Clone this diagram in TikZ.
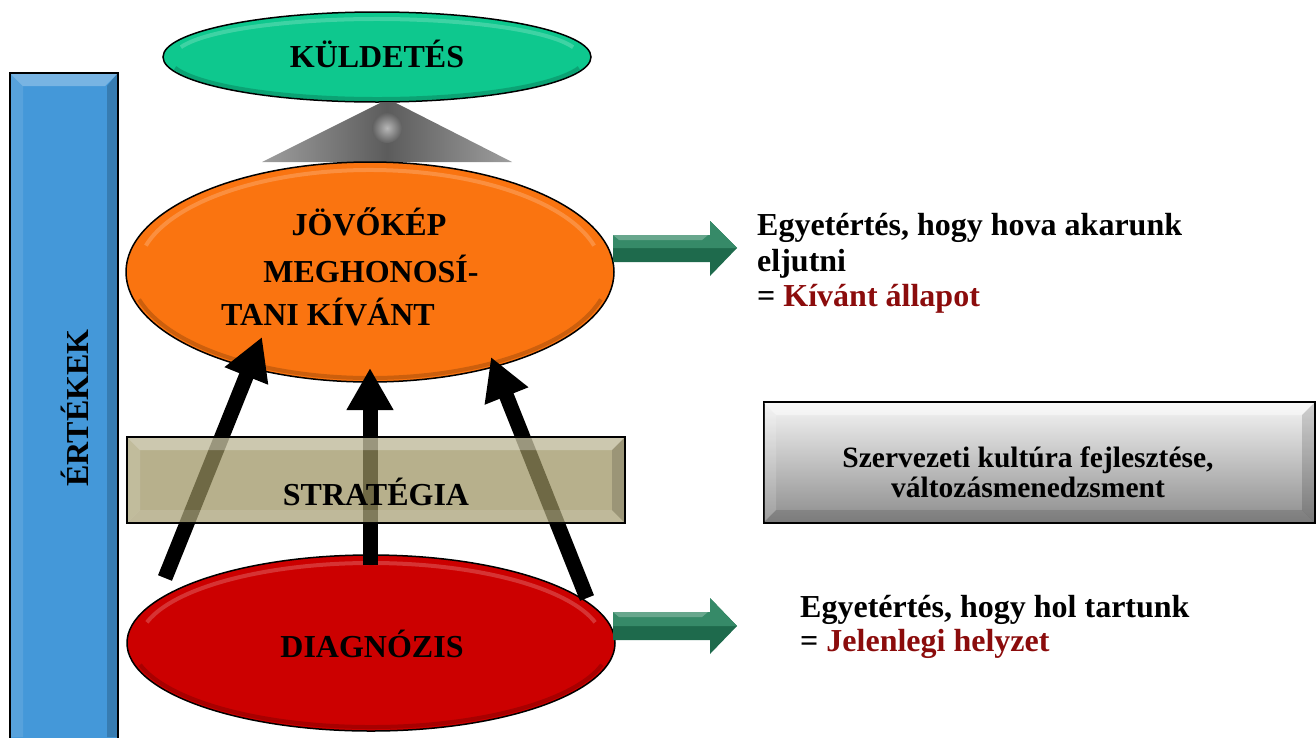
\documentclass[tikz,border=0pt]{standalone}
\usepackage{fontspec}
\setmainfont{Liberation Serif}
\usetikzlibrary{shapes.geometric,arrows.meta}
\definecolor{barblue}{RGB}{68,152,217}
\definecolor{kgreen}{RGB}{14,200,142}
\definecolor{jorange}{RGB}{250,116,16}
\definecolor{dred}{RGB}{204,0,0}
\definecolor{khaki}{RGB}{155,146,96}
\definecolor{garrow}{RGB}{30,106,76}
\definecolor{garrowlt}{RGB}{54,138,104}
\definecolor{txtred}{RGB}{139,12,12}
\begin{document}
\begin{tikzpicture}[x=1pt,y=-1pt,
  lbl/.style={font=\fontsize{32}{36}\selectfont\bfseries, inner sep=0},
  boxlbl/.style={font=\fontsize{29.5}{30}\selectfont\bfseries, inner sep=0},
  oval/.style={ellipse, draw=black, line width=1.5pt, inner sep=0},
  bigarrow/.style={line width=15pt, -{Triangle[length=42pt,width=44pt]}},
  blockarrow/.style={fill=garrow},
  hl/.style={white, opacity=0.2, line width=4pt},
  sh/.style={black, opacity=0.18, line width=4pt}]
\useasboundingbox (0,0) rectangle (1316,737);

% values bar
\node[rectangle, fill=barblue, minimum width=108pt, minimum height=668pt, inner sep=0, anchor=north west] (bar) at (10,73) {};
\fill[white, opacity=0.28] (11,74) -- (117,74) -- (105,86) -- (23,86) -- cycle;
\fill[white, opacity=0.1] (11,74) -- (23,86) -- (23,737) -- (11,737) -- cycle;
\fill[black, opacity=0.18] (117,74) -- (107,86) -- (107,737) -- (117,737) -- cycle;
\draw[line width=2pt] (bar.south west) -- (bar.north west) -- (bar.north east) -- (bar.south east);
\node[lbl, rotate=90, anchor=base] (ert) at (88,408) {ÉRTÉKEK};

% mission
\node[oval, fill=kgreen, minimum width=428pt, minimum height=90pt] (kuld) at (377,57) {};
\draw[hl] (kuld.center) ++(195:203 and 38) arc[start angle=195, end angle=345, x radius=203, y radius=38];
\draw[sh] (kuld.center) ++(15:209 and 42) arc[start angle=15, end angle=165, x radius=209, y radius=42];
\node[lbl, anchor=base] (kuldt) at (377,67) {KÜLDETÉS};

% pedestal
\shade[left color=black!38, right color=black!38, middle color=black!64] (262,162) -- (380,103) -- (396,103) -- (512,162) -- cycle;
\shade[inner color=black!28, outer color=black!62] (387,128) circle (15);

% vision
\node[oval, fill=jorange, minimum width=488pt, minimum height=220pt] (jov) at (370,272) {};
\draw[hl] (jov.center) ++(195:232 and 102) arc[start angle=195, end angle=345, x radius=232, y radius=102];
\draw[sh] (jov.center) ++(15:239 and 106) arc[start angle=15, end angle=165, x radius=239, y radius=106];
\node[lbl, anchor=base] (jov1) at (369,235) {JÖVŐKÉP};
\node[lbl, anchor=base] (jov2) at (371,282) {MEGHONOSÍ-};
\node[lbl, anchor=base] (jov3) at (328,325) {TANI KÍVÁNT};

% diagnosis
\node[oval, fill=dred, minimum width=488pt, minimum height=176pt] (diag) at (371,643) {};
\draw[hl] (diag.center) ++(195:232 and 80) arc[start angle=195, end angle=345, x radius=232, y radius=80];
\draw[sh] (diag.center) ++(15:239 and 84) arc[start angle=15, end angle=165, x radius=239, y radius=84];
\node[lbl, anchor=base] (diagt) at (372,657) {DIAGNÓZIS};

% arrows from diagnosis to vision
\coordinate (a1s) at (165,578); \coordinate (a1e) at (262,337);
\coordinate (a2s) at (370,565); \coordinate (a2e) at (370,368);
\coordinate (a3s) at (587,598); \coordinate (a3e) at (491,357);
\draw[bigarrow] (a1s) -- (a1e);
\draw[bigarrow] (a2s) -- (a2e);
\draw[bigarrow] (a3s) -- (a3e);

% strategy box (translucent)
\node[rectangle, draw=black, line width=2pt, fill=khaki, fill opacity=0.72, minimum width=498pt, minimum height=86pt, inner sep=0] (strat) at (376,480) {};
\fill[white, opacity=0.3] (128,438) -- (624,438) -- (612,450) -- (140,450) -- cycle;
\fill[white, opacity=0.15] (128,438) -- (140,450) -- (140,510) -- (128,522) -- cycle;
\fill[black, opacity=0.15] (624,438) -- (612,450) -- (612,510) -- (624,522) -- cycle;
\fill[white, opacity=0.12] (128,522) -- (140,510) -- (612,510) -- (624,522) -- cycle;
\node[lbl, anchor=base] (stratt) at (376,505) {STRATÉGIA};

% culture box
\node[rectangle, draw=black, line width=2pt, top color=black!4, bottom color=black!45, minimum width=551pt, minimum height=121pt, inner sep=0] (kult) at (1039,462.5) {};
\fill[white, opacity=0.45] (764,403) -- (1314,403) -- (1302,415) -- (776,415) -- cycle;
\fill[black, opacity=0.15] (1314,403) -- (1302,415) -- (1302,510) -- (1314,522) -- cycle;
\fill[white, opacity=0.15] (764,403) -- (776,415) -- (776,510) -- (764,522) -- cycle;
\fill[black, opacity=0.12] (764,522) -- (776,510) -- (1302,510) -- (1314,522) -- cycle;
\node[boxlbl, anchor=base] (kult1) at (1028,467) {Szervezeti kultúra fejlesztése,};
\node[boxlbl, anchor=base] (kult2) at (1028,497) {változásmenedzsment};

% block arrows
\fill[blockarrow] (613,235) -- (710,235) -- (710,221) -- (737,248) -- (710,276) -- (710,262) -- (613,262) -- cycle;
\fill[garrowlt] (613,235) -- (710,235) -- (710,221) -- (737,248) -- (613,248) -- cycle;
\fill[white, opacity=0.25] (613,235) -- (708,235) -- (702,240) -- (619,240) -- cycle;
\fill[blockarrow] (613,612) -- (710,612) -- (710,598) -- (737,626) -- (710,654) -- (710,640) -- (613,640) -- cycle;
\fill[garrowlt] (613,612) -- (710,612) -- (710,598) -- (737,626) -- (613,626) -- cycle;
\fill[white, opacity=0.25] (613,612) -- (708,612) -- (702,617) -- (619,617) -- cycle;

% texts
\node[lbl, anchor=base west] (t1) at (757,235) {Egyetértés, hogy hova akarunk};
\node[lbl, anchor=base west] (t2) at (757,271) {eljutni};
\node[lbl, anchor=base west] (t3) at (757,306) {= \textcolor{txtred}{Kívánt állapot}};
\node[lbl, anchor=base west] (b1) at (800,617) {Egyetértés, hogy hol tartunk};
\node[lbl, anchor=base west] (b2) at (800,651) {= \textcolor{txtred}{Jelenlegi helyzet}};
\end{tikzpicture}
\end{document}
